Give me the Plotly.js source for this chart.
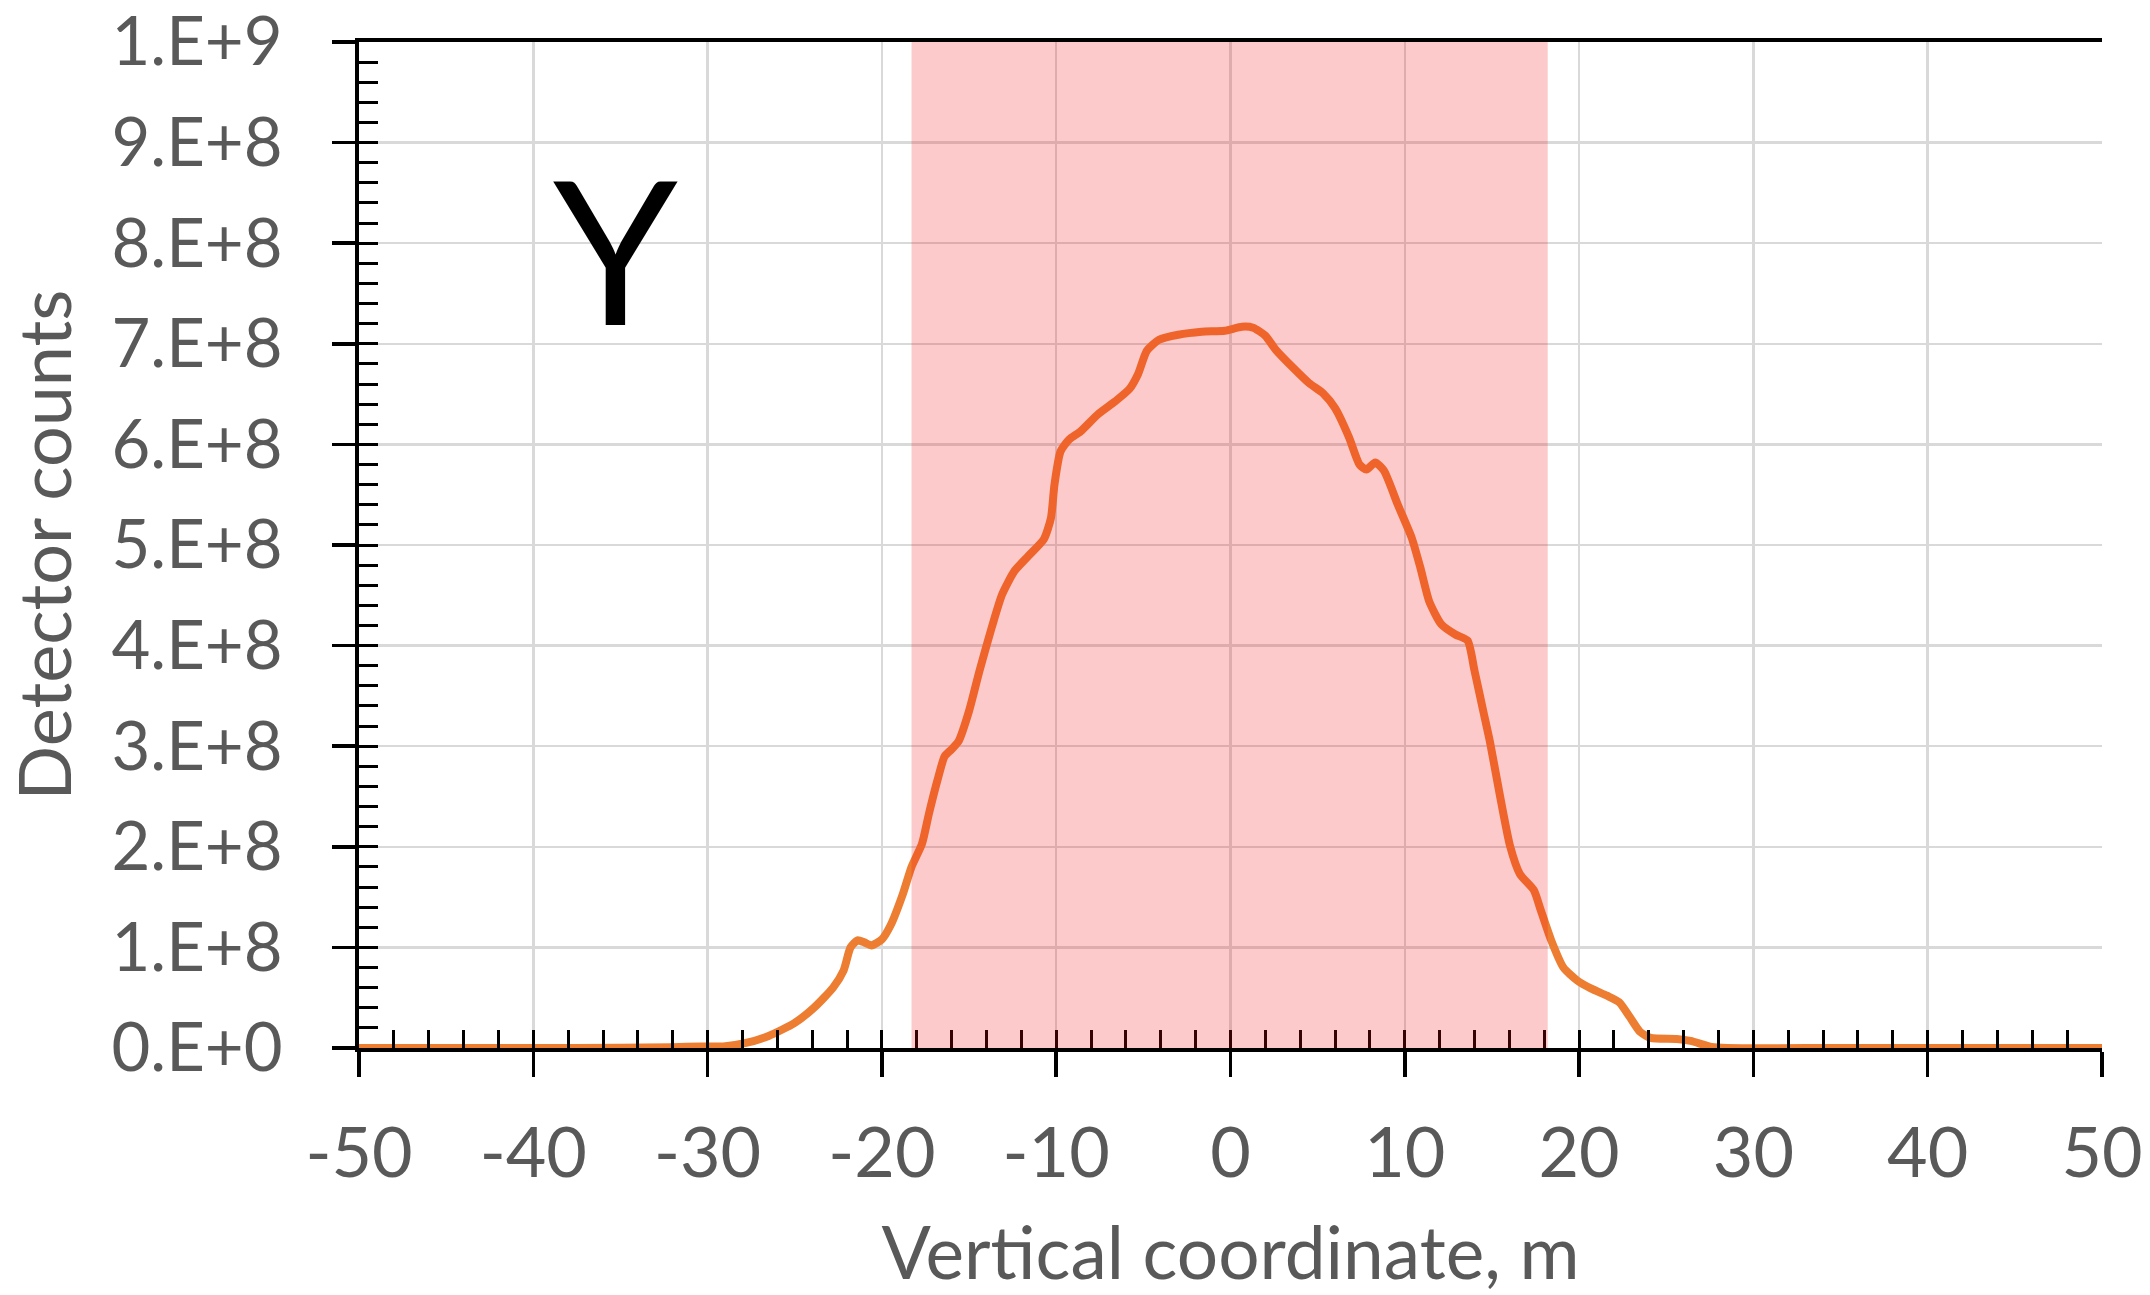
<!DOCTYPE html>
<html>
<head>
<meta charset="utf-8">
<script src="https://cdn.plot.ly/plotly-3.0.1.min.js"></script>
<style>html,body{margin:0;padding:0;background:#fff;}#chart{width:2150px;height:1295px;}</style>
</head>
<body>
<div id="chart"></div>
<script>
// Vertical coordinate, m
const coordX = [-50, -40, -35, -32, -30.4, -29.1, -27.8, -26.5, -25.0, -23.9, -22.8, -22.2, -21.8, -21.4, -21.0, -20.6, -20.0, -19.5, -18.8, -18.3, -17.7, -17.3, -16.8, -16.4, -16.0, -15.6, -15.0, -14.4, -13.7, -13.1, -12.4, -11.6, -10.7, -10.3, -10.1, -9.75, -9.25, -8.6, -7.6, -6.6, -5.8, -5.3, -4.8, -4.1, -3.0, -1.65, -0.33, 0.66, 1.3, 2.0, 2.6, 3.6, 4.5, 5.3, 6.0, 6.8, 7.4, 7.8, 8.3, 8.8, 9.6, 10.4, 10.9, 11.4, 12.1, 12.9, 13.6, 14.0, 14.5, 14.9, 15.5, 16.05, 16.6, 17.4, 17.8, 18.4, 19.1, 19.9, 20.7, 21.6, 22.3, 22.9, 23.5, 24.1, 25.6, 26.4, 27.6, 28.5, 35, 50];
// Detector counts
const counts = [0, 0, 0.2e6, 0.8e6, 1.5e6, 1.5e6, 5e6, 12e6, 25e6, 40e6, 60e6, 77e6, 100e6, 107e6, 105e6, 102e6, 108e6, 122e6, 153e6, 180e6, 203e6, 233e6, 267e6, 290e6, 297e6, 305e6, 335e6, 375e6, 418e6, 451e6, 474e6, 489e6, 506e6, 527e6, 560e6, 593e6, 605e6, 613e6, 630e6, 643e6, 655e6, 670e6, 693e6, 704e6, 709e6, 712e6, 713e6, 717e6, 716e6, 708e6, 694e6, 676e6, 661e6, 651e6, 636e6, 607e6, 580e6, 575e6, 582e6, 574e6, 540e6, 507e6, 477e6, 444e6, 421e6, 411e6, 405e6, 375e6, 335e6, 303e6, 247e6, 200e6, 173e6, 157e6, 137e6, 107e6, 80e6, 67e6, 59e6, 52e6, 45.5e6, 31e6, 16e6, 10e6, 9e6, 7e6, 1e6, 0, 0, 0];

// Shaded region limits, m
const bandLimits = [-18.3, 18.2];

// Tick labels
const xTickVals = [-50, -40, -30, -20, -10, 0, 10, 20, 30, 40, 50];
const xTickText = ["-50", "-40", "-30", "-20", "-10", "0", "10", "20", "30", "40", "50"];
const yTickVals = [0, 1e8, 2e8, 3e8, 4e8, 5e8, 6e8, 7e8, 8e8, 9e8, 1e9];
const yTickText = ["0.E+0", "1.E+8", "2.E+8", "3.E+8", "4.E+8", "5.E+8", "6.E+8", "7.E+8", "8.E+8", "9.E+8", "1.E+9"];

const xTitle = "Vertical coordinate, m";
const yTitle = "Detector counts";
const panelLabel = "Y";

const FONT = "Lato, 'Open Sans', sans-serif";
const GREY = "#595959";

const trace = {
  x: coordX,
  y: counts,
  type: "scatter",
  mode: "lines",
  line: { color: "#ED7D31", width: 8, shape: "spline", smoothing: 0.6 },
  hoverinfo: "skip",
  xaxis: "x",
  yaxis: "y"
};

const layout = {
  width: 2150,
  height: 1295,
  margin: { l: 359, r: 48, t: 42, b: 247 },
  paper_bgcolor: "#ffffff",
  plot_bgcolor: "#ffffff",
  showlegend: false,
  font: { family: FONT, color: GREY, size: 66 },
  xaxis: {
    range: [-50, 50],
    tickmode: "array",
    tickvals: xTickVals,
    ticktext: xTickText,
    ticks: "outside",
    ticklen: 25,
    tickwidth: 3.5,
    tickcolor: "#000",
    ticklabelstandoff: 16,
    ticklabeloverflow: "allow",
    showline: true,
    linecolor: "#000",
    linewidth: 4,
    mirror: true,
    showgrid: true,
    gridcolor: "#D9D9D9",
    gridwidth: 2.5,
    zeroline: false,
    tickfont: { family: FONT, size: 70, color: GREY },
    title: { text: xTitle, font: { family: FONT, size: 73, color: GREY }, standoff: 44 }
  },
  yaxis: {
    range: [0, 1e9],
    tickmode: "array",
    tickvals: yTickVals,
    ticktext: yTickText,
    ticks: "outside",
    ticklen: 23,
    tickwidth: 3.5,
    tickcolor: "#000",
    ticklabelstandoff: 36,
    ticklabeloverflow: "allow",
    showline: true,
    linecolor: "#000",
    linewidth: 4,
    showgrid: true,
    gridcolor: "#D9D9D9",
    gridwidth: 2.5,
    zeroline: false,
    tickfont: { family: FONT, size: 67, color: GREY },
    title: { text: yTitle, font: { family: FONT, size: 72, color: GREY }, standoff: 22 }
  },
  xaxis2: {
    overlaying: "x",
    side: "bottom",
    range: [-50, 50],
    tick0: -50,
    dtick: 2,
    ticks: "inside",
    ticklen: 18,
    tickwidth: 3,
    tickcolor: "#000",
    showticklabels: false,
    showgrid: false,
    showline: false,
    zeroline: false
  },
  yaxis2: {
    overlaying: "y",
    side: "left",
    range: [0, 1e9],
    tick0: 0,
    dtick: 2e7,
    ticks: "inside",
    ticklen: 19,
    tickwidth: 3,
    tickcolor: "#000",
    showticklabels: false,
    showgrid: false,
    showline: false,
    zeroline: false
  },
  shapes: [{
    type: "rect",
    xref: "x",
    yref: "paper",
    x0: bandLimits[0],
    x1: bandLimits[1],
    y0: 0,
    y1: 1,
    fillcolor: "rgba(242,13,18,0.22)",
    line: { width: 0 },
    layer: "above"
  }],
  annotations: [{
    text: panelLabel,
    xref: "x",
    yref: "y",
    x: -35.3,
    y: 7.95e8,
    xanchor: "center",
    yanchor: "middle",
    showarrow: false,
    font: { family: FONT, size: 200, color: "#000" }
  }]
};

const blank = { x: [], y: [], type: "scatter", mode: "lines", xaxis: "x2", yaxis: "y2", hoverinfo: "skip" };

Plotly.newPlot("chart", [trace, blank], layout, { staticPlot: true, displayModeBar: false });
</script>
</body>
</html>
